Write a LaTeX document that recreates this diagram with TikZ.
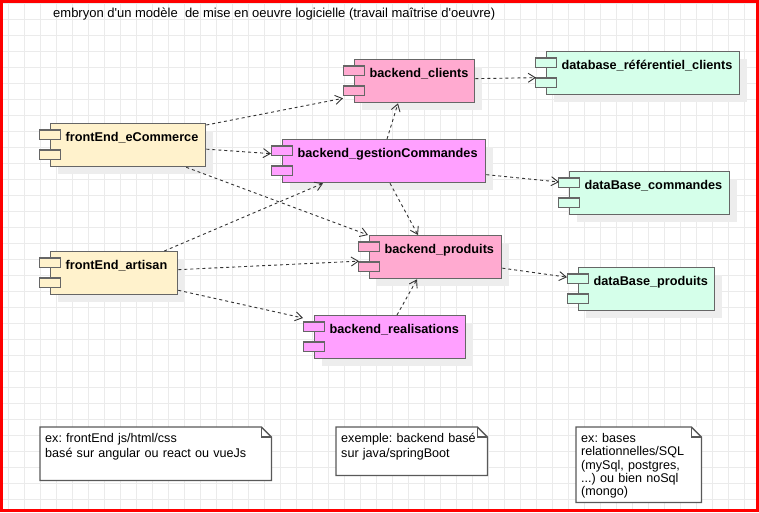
\documentclass[tikz,border=0pt]{standalone}
\usepackage{fontspec}
\setmainfont{Liberation Sans}[Ligatures=TeXOff]
\usetikzlibrary{arrows.meta,shadows}
\hyphenpenalty=10000
\frenchspacing

\definecolor{frontfill}{HTML}{FFF2CC}
\definecolor{backfill}{HTML}{FFAAD0}
\definecolor{gestfill}{HTML}{FFA0FF}
\definecolor{dbfill}{HTML}{D5FFEA}
\definecolor{compline}{HTML}{666666}
\definecolor{gridgray}{HTML}{EBEBEB}

\begin{document}
\begin{tikzpicture}[x=1pt,y=-1pt,
  comp/.style={draw=compline,line width=1.3pt,anchor=north west,inner xsep=15pt,inner ysep=0pt,
    text height=18pt,text depth=25pt,align=left,font=\bfseries\fontsize{12.7}{15}\selectfont,
    drop shadow={shadow xshift=7pt,shadow yshift=-7pt,fill=black!7,opacity=1}},
  tab/.style={draw=compline,line width=1.3pt},
  dep/.style={-{Straight Barb[length=7pt,width=9pt]},line width=0.9pt,draw=black!80,dash pattern=on 3pt off 3pt},
  note/.style={fill=white,anchor=north west,inner xsep=5pt,inner ysep=0pt,text height=15pt,
    align=left,font=\fontsize{12.6}{15}\selectfont},
  noteline/.style={draw=black!65,line width=1.3pt},
  gridline/.style={draw=gridgray,line width=0.8pt}]
  \useasboundingbox (0,0) rectangle (759,512);
  % background grid
  \foreach \gx in {8.5,24.5,...,759} \draw[gridline] (\gx,0) -- (\gx,512);
  \foreach \gy in {3.3,19.3,...,512} \draw[gridline] (0,\gy) -- (759,\gy);

  \node[anchor=west,inner sep=0pt,font=\fontsize{13}{15}\selectfont] (title) at (53,14)
    {embryon d'un modèle\ \ de mise en oeuvre logicielle (travail maîtrise d'oeuvre)};

  % components
  \node[comp,fill=backfill,text width=90pt] (clients) at (354,59) {backend\_clients};
  \node[comp,fill=dbfill,text width=163pt] (dbref) at (546,51) {database\_référentiel\_clients};
  \node[comp,fill=gestfill,text width=173pt] (gestion) at (282,139) {backend\_gestionCommandes};
  \node[comp,fill=dbfill,text width=130pt] (dbcmd) at (569,171) {dataBase\_commandes};
  \node[comp,fill=frontfill,text width=125pt] (ecom) at (50,123) {frontEnd\_eCommerce};
  \node[comp,fill=frontfill,text width=97pt] (artisan) at (50,251) {frontEnd\_artisan};
  \node[comp,fill=backfill,text width=102pt] (produits) at (369,235) {backend\_produits};
  \node[comp,fill=dbfill,text width=106pt] (dbprod) at (578,267) {dataBase\_produits};
  \node[comp,fill=gestfill,text width=121pt] (realis) at (314,315) {backend\_realisations};

  \foreach \n/\c in {clients/backfill,dbref/dbfill,gestion/gestfill,dbcmd/dbfill,ecom/frontfill,
      artisan/frontfill,produits/backfill,dbprod/dbfill,realis/gestfill}{
    \draw[tab,fill=\c] ([xshift=-10.5pt,yshift=-7pt]\n.north west) rectangle ++(21pt,-9.5pt);
    \draw[tab,fill=\c] ([xshift=-10.5pt,yshift=-27pt]\n.north west) rectangle ++(21pt,-9.5pt);
  }

  % dependencies
  \draw[dep] ([yshift=-2pt]ecom.north east) -- ([xshift=-11pt,yshift=5pt]clients.south west);
  \draw[dep] ([yshift=-4pt]ecom.east) -- ([xshift=-11pt,yshift=7.5pt]gestion.west);
  \draw[dep] ([xshift=-20pt]ecom.south east) -- ([xshift=-1pt]produits.north west);
  \draw[dep] ([xshift=-14pt]artisan.north east) -- ([xshift=41pt]gestion.south west);
  \draw[dep] ([yshift=3.5pt]artisan.east) -- ([xshift=-10pt,yshift=-4pt]produits.west);
  \draw[dep] ([yshift=5pt]artisan.south east) -- ([xshift=-11pt,yshift=-3pt]realis.north west);
  \draw[dep] ([xshift=105pt]gestion.north west) -- ([xshift=44pt]clients.south west);
  \draw[dep] ([xshift=108pt]gestion.south west) -- ([xshift=49pt]produits.north west);
  \draw[dep] ([yshift=-13.5pt]gestion.east) -- ([xshift=-10pt,yshift=-11pt]dbcmd.north west);
  \draw[dep] ([yshift=2.5pt]clients.east) -- ([xshift=-10pt,yshift=-4.5pt]dbref.west);
  \draw[dep] ([yshift=-11pt]produits.east) -- ([xshift=-11pt,yshift=12pt]dbprod.west);
  \draw[dep] ([xshift=83pt]realis.north west) -- ([xshift=48pt]produits.south west);

  % notes
  \node[note,text width=221pt,text depth=38pt] (n1) at (40,427)
    {ex: frontEnd js/html/css\\basé sur angular ou react ou vueJs};
  \node[note,text width=141pt,text depth=33pt] (n2) at (336,427)
    {exemple: backend basé\\sur java/springBoot};
  \node[note,text width=115pt,text depth=60pt,font=\fontsize{12.6}{13.4}\selectfont] (n3) at (576,427)
    {ex: bases\\relationnelles/SQL\\(mySql, postgres,\\...) ou bien noSql\\(mongo)};
  \foreach \n in {n1,n2,n3}{
    \draw[noteline] (\n.north west) -- ([xshift=-10pt]\n.north east) -- ([yshift=-10pt]\n.north east)
      -- (\n.south east) -- (\n.south west) -- cycle;
    \draw[noteline] ([xshift=-10pt]\n.north east) -- ([xshift=-10pt,yshift=-10pt]\n.north east)
      -- ([yshift=-10pt]\n.north east);
  }

  \draw[red,line width=3pt] (1.5,1.5) rectangle (757.5,510.5);
\end{tikzpicture}
\end{document}
